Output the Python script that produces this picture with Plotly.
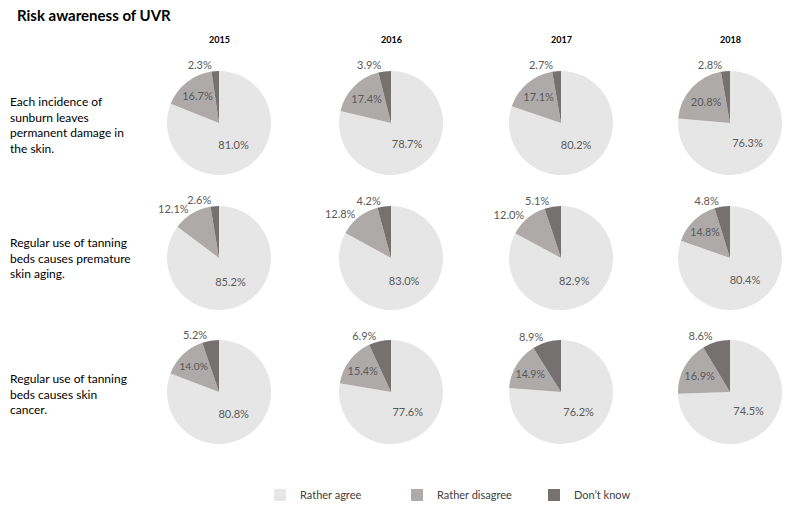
import plotly.graph_objects as go

title = "Risk awareness of UVR"
years = ["2015", "2016", "2017", "2018"]
statements = [
    "Each incidence of<br>sunburn leaves<br>permanent damage in<br>the skin.",
    "Regular use of tanning<br>beds causes premature<br>skin aging.",
    "Regular use of tanning<br>beds causes skin<br>cancer.",
]
categories = ["Rather agree", "Rather disagree", "Don\u2019t know"]

# rows = statements, columns = years
agree = [
    [81.0, 78.7, 80.2, 76.3],
    [85.2, 83.0, 82.9, 80.4],
    [80.8, 77.6, 76.2, 74.5],
]
disagree = [
    [16.7, 17.4, 17.1, 20.8],
    [12.1, 12.8, 12.0, 14.8],
    [14.0, 15.4, 14.9, 16.9],
]
dont_know = [
    [2.3, 3.9, 2.7, 2.8],
    [2.6, 4.2, 5.1, 4.8],
    [5.2, 6.9, 8.9, 8.6],
]

colors = ["#e7e6e6", "#aeaaaa", "#767171"]
W, H = 793, 510
col_cx = [219, 391, 561, 730]
row_cy = [123, 258, 392]
R = 52
FONT = "Lato, 'Open Sans', sans-serif"
TXT = dict(family=FONT, size=11, color="#595959")

fig = go.Figure()
for i in range(3):
    for j in range(4):
        vals = [agree[i][j], disagree[i][j], dont_know[i][j]]
        cx, cy = col_cx[j], row_cy[i]
        dom = dict(x=[(cx - R) / W, (cx + R) / W],
                   y=[(H - cy - R) / H, (H - cy + R) / H])
        dis_out = vals[1] < 13
        # visible pie: inside labels + "don't know" outside label
        fig.add_trace(go.Pie(
            labels=categories,
            values=vals,
            sort=False,
            direction="clockwise",
            rotation=0,
            marker=dict(colors=colors, line=dict(width=0)),
            texttemplate="%{value:.1f}%",
            textposition=["inside", "none" if dis_out else "inside", "outside"],
            insidetextorientation="horizontal",
            textfont=TXT,
            hoverinfo="label+value",
            showlegend=(i == 0 and j == 0),
            domain=dom,
        ))
        if dis_out:
            # transparent overlay pie carrying only the outside "disagree" label
            fig.add_trace(go.Pie(
                labels=categories,
                values=vals,
                sort=False,
                direction="clockwise",
                rotation=0,
                marker=dict(colors=["rgba(0,0,0,0)"] * 3, line=dict(width=0)),
                texttemplate="%{value:.1f}%",
                textposition=["none", "outside", "none"],
                textfont=TXT,
                hoverinfo="skip",
                showlegend=False,
                domain=dom,
            ))

annotations = [dict(text="<b>" + title + "</b>", x=15 / W, y=1 - 15 / H,
                    xref="paper", yref="paper", xanchor="left", yanchor="middle",
                    showarrow=False, font=dict(family=FONT, size=15, color="#000000"))]
for j, yr in enumerate(years):
    annotations.append(dict(text="<b>" + yr + "</b>", x=col_cx[j] / W, y=1 - 40 / H,
                            xref="paper", yref="paper", xanchor="center", yanchor="middle",
                            showarrow=False, font=dict(family=FONT, size=9, color="#000000")))
label_top = [92, 233, 369]
for i, st in enumerate(statements):
    annotations.append(dict(text=st, x=8 / W, y=1 - label_top[i] / H,
                            xref="paper", yref="paper", xanchor="left", yanchor="top",
                            align="left", showarrow=False,
                            font=dict(family=FONT, size=12, color="#000000")))

fig.update_layout(
    width=W, height=H,
    margin=dict(l=0, r=0, t=0, b=0, autoexpand=False),
    paper_bgcolor="white", plot_bgcolor="white",
    annotations=annotations,
    legend=dict(orientation="h", x=260 / W, y=1 - 495 / H, xanchor="left", yanchor="middle",
                entrywidth=92, entrywidthmode="pixels",
                font=dict(family=FONT, size=11, color="#404040"), traceorder="normal"),
)
fig.write_html("out.html", config={"displayModeBar": False},
               post_script="document.body.style.margin='0';")
